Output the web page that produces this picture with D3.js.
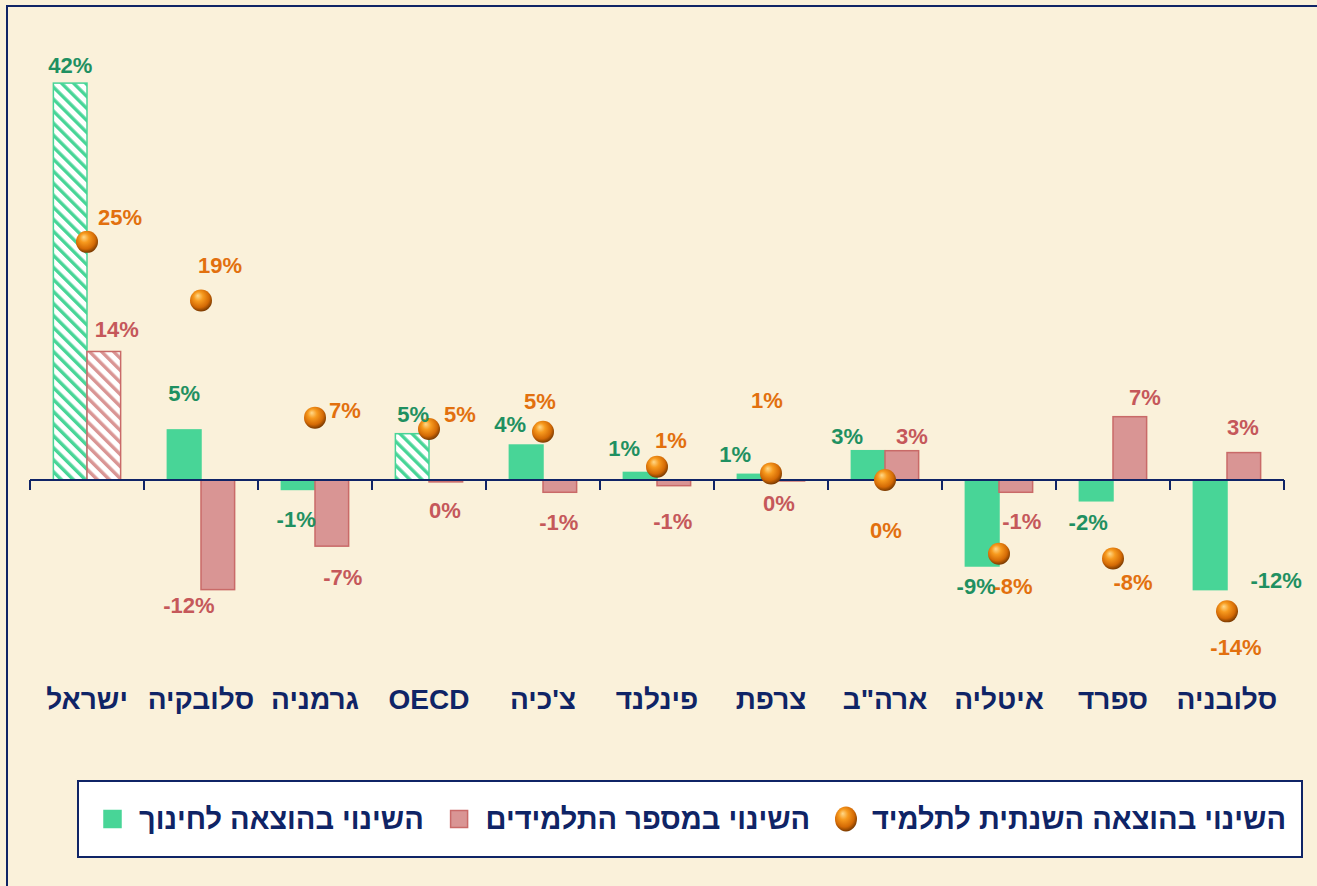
<!DOCTYPE html>
<html>
<head>
<meta charset="utf-8">
<script src="https://cdn.jsdelivr.net/npm/d3@7"></script>
<style>
  body { margin: 0; background: #FAF1DA; }
  svg text { font-family: "Liberation Sans", Arial, sans-serif; font-weight: bold; }
</style>
</head>
<body>
<div id="chart"></div>
<script>
"use strict";

// data (percent change)
var categories = ["ישראל", "סלובקיה", "גרמניה", "OECD", "צ'כיה", "פינלנד", "צרפת", "ארה\"ב", "איטליה", "ספרד", "סלובניה"];
var eduSpend   = [42, 5.3, -1.0, 4.9, 3.7, 0.8, 0.6, 3.1, -9.1, -2.2, -11.6];
var students   = [13.6, -11.6, -7.0, -0.2, -1.3, -0.6, -0.1, 3.1, -1.3, 6.7, 2.9];
var perStudent = [25.2, 19.0, 6.6, 5.4, 5.1, 1.4, 0.7, 0.0, -7.8, -8.3, -13.9];
var hatchedEdu = ["ישראל", "OECD"];
var hatchedStudents = ["ישראל"];
var seriesNames = ["השינוי בהוצאה לחינוך", "השינוי במספר התלמידים", "השינוי בהוצאה השנתית לתלמיד"];

// label nudges (dx, dy) from the end of each mark, like the hand placed labels
var eduNudge = [[0,-18],[0,-36],[-2,30],[1,-19],[-16,-21],[-16,-24],[-19,-20],[-21,-14],[-6,21],[-8,22],[66,-9]];
var stuNudge = [[13,-22],[-29,16],[11,31],[-1,29],[-1,30],[-1,36],[-9,23],[10,-14],[6,29],[15,-19],[-1,-25]];
var perNudge = [[33,-24],[19,-35],[30,-7],[31,-14],[-3,-30],[14,-26],[-4,-73],[1,50],[14,33],[20,24],[9,36]];

var W = 1317, H = 886;
var green = "#48D597", greenText = "#1F9061";
var pink = "#D99594", pinkLine = "#C96A68", pinkText = "#C5585A";
var orangeText = "#E2700E", navy = "#0F2466";

var svg = d3.select("#chart").append("svg")
    .attr("width", W).attr("height", H);

svg.append("rect").attr("width", W).attr("height", H).attr("fill", "#FAF1DA");

// frame (only top and left show)
svg.append("path")
    .attr("d", "M7," + H + "V6H" + W)
    .attr("fill", "none").attr("stroke", navy).attr("stroke-width", 2);

var defs = svg.append("defs");
function hatch(id, color) {
  var p = defs.append("pattern").attr("id", id)
      .attr("patternUnits", "userSpaceOnUse")
      .attr("width", 8.5).attr("height", 8.5)
      .attr("patternTransform", "rotate(-45)");
  p.append("rect").attr("width", 8.5).attr("height", 8.5).attr("fill", "#fff");
  p.append("rect").attr("width", 3.4).attr("height", 8.5).attr("fill", color);
}
hatch("hatchGreen", green);
hatch("hatchPink", pink);

var ball = defs.append("radialGradient").attr("id", "ball")
    .attr("cx", "45%").attr("cy", "40%").attr("r", "60%")
    .attr("fx", "35%").attr("fy", "28%");
ball.append("stop").attr("offset", "0%").attr("stop-color", "#FFD98A");
ball.append("stop").attr("offset", "35%").attr("stop-color", "#F79A1E");
ball.append("stop").attr("offset", "75%").attr("stop-color", "#D46A05");
ball.append("stop").attr("offset", "100%").attr("stop-color", "#7A3A00");

// scales
var x0 = d3.scaleBand().domain(categories).range([30, 1284])
    .paddingInner(0.41).paddingOuter(0.205);
var x1 = d3.scaleBand().domain(["edu", "stu"]).range([0, x0.bandwidth()]);
var y = d3.scaleLinear().domain([-16, 45]).range([480 + 16 * 9.45, 480 - 45 * 9.45]);

function fmt(v) {
  var r = Math.round(v);
  return (r === 0 ? 0 : r) + "%";
}
function barY(v) { return Math.min(y(v), y(0)); }
function barH(v) { return Math.abs(y(v) - y(0)); }

// green bars
svg.append("g").selectAll("rect")
  .data(eduSpend)
  .join("rect")
    .attr("x", function(d, i) { return x0(categories[i]) + x1("edu"); })
    .attr("y", function(d) { return barY(d); })
    .attr("width", x1.bandwidth())
    .attr("height", function(d) { return barH(d); })
    .attr("fill", function(d, i) { return hatchedEdu.indexOf(categories[i]) >= 0 ? "url(#hatchGreen)" : green; })
    .attr("stroke", green).attr("stroke-width", 1.5);

// pink bars
svg.append("g").selectAll("rect")
  .data(students)
  .join("rect")
    .attr("x", function(d, i) { return x0(categories[i]) + x1("stu"); })
    .attr("y", function(d) { return barY(d); })
    .attr("width", x1.bandwidth())
    .attr("height", function(d) { return barH(d); })
    .attr("fill", function(d, i) { return hatchedStudents.indexOf(categories[i]) >= 0 ? "url(#hatchPink)" : pink; })
    .attr("stroke", pinkLine).attr("stroke-width", 1.5);

// x axis with ticks between categories
var axis = svg.append("g");
axis.append("line")
    .attr("x1", 30).attr("x2", 1284).attr("y1", y(0)).attr("y2", y(0))
    .attr("stroke", navy).attr("stroke-width", 2);
var bounds = categories.map(function(c) { return x0(c) - x0.step() * x0.paddingInner() / 2; });
bounds.push(1284);
axis.selectAll("line.tick")
  .data(bounds)
  .join("line").attr("class", "tick")
    .attr("x1", function(d) { return d; }).attr("x2", function(d) { return d; })
    .attr("y1", y(0)).attr("y2", y(0) + 10)
    .attr("stroke", navy).attr("stroke-width", 2);

// category names
svg.append("g").selectAll("text")
  .data(categories)
  .join("text")
    .attr("x", function(d) { return x0(d) + x0.bandwidth() / 2; })
    .attr("y", 699)
    .attr("text-anchor", "middle")
    .attr("dominant-baseline", "central")
    .attr("font-size", 28)
    .attr("fill", navy)
    .text(function(d) { return d; });

// balls
svg.append("g").selectAll("circle")
  .data(perStudent)
  .join("circle")
    .attr("cx", function(d, i) { return x0(categories[i]) + x0.bandwidth() / 2; })
    .attr("cy", function(d) { return y(d); })
    .attr("r", 11)
    .attr("fill", "url(#ball)");

// data labels
function labels(vals, nudge, ax, ay, color) {
  svg.append("g").selectAll("text")
    .data(vals)
    .join("text")
      .attr("x", function(d, i) { return ax(d, i) + nudge[i][0]; })
      .attr("y", function(d, i) { return ay(d, i) + nudge[i][1]; })
      .attr("text-anchor", "middle")
      .attr("dominant-baseline", "central")
      .attr("font-size", 22)
      .attr("fill", color)
      .text(fmt);
}
labels(eduSpend, eduNudge,
  function(d, i) { return x0(categories[i]) + x1("edu") + x1.bandwidth() / 2; },
  function(d) { return y(d); }, greenText);
labels(students, stuNudge,
  function(d, i) { return x0(categories[i]) + x1("stu") + x1.bandwidth() / 2; },
  function(d) { return y(d); }, pinkText);
labels(perStudent, perNudge,
  function(d, i) { return x0(categories[i]) + x0.bandwidth() / 2; },
  function(d) { return y(d); }, orangeText);

// legend: entries spread evenly from left to right
var lg = svg.append("g");
lg.append("rect")
    .attr("x", 78).attr("y", 781).attr("width", 1224).attr("height", 76)
    .attr("fill", "#fff").attr("stroke", navy).attr("stroke-width", 2);

var kinds = ["green", "pink", "ball"];
var ly = 819, left = 104, right = 1286, symW = 18, symGap = 17;
var texts = seriesNames.map(function(name) {
  return lg.append("text")
      .attr("y", ly)
      .attr("text-anchor", "start")
      .attr("dominant-baseline", "central")
      .attr("font-size", 29)
      .attr("fill", navy)
      .text(name);
});
var widths = texts.map(function(t) { return t.node().getComputedTextLength(); });
var used = d3.sum(widths) + kinds.length * (symW + symGap);
var gap = (right - left - used) / (kinds.length - 1);
var cx = left;
kinds.forEach(function(k, i) {
  if (k === "ball") {
    lg.append("ellipse").attr("cx", cx + symW / 2).attr("cy", ly).attr("rx", 11).attr("ry", 12.5)
        .attr("fill", "url(#ball)");
  } else {
    lg.append("rect").attr("x", cx).attr("y", ly - 8.5).attr("width", 17).attr("height", 17)
        .attr("fill", k === "pink" ? pink : green)
        .attr("stroke", k === "pink" ? pinkLine : green).attr("stroke-width", 1.5);
  }
  texts[i].attr("x", cx + symW + symGap);
  cx += symW + symGap + widths[i] + gap;
});
</script>
</body>
</html>
